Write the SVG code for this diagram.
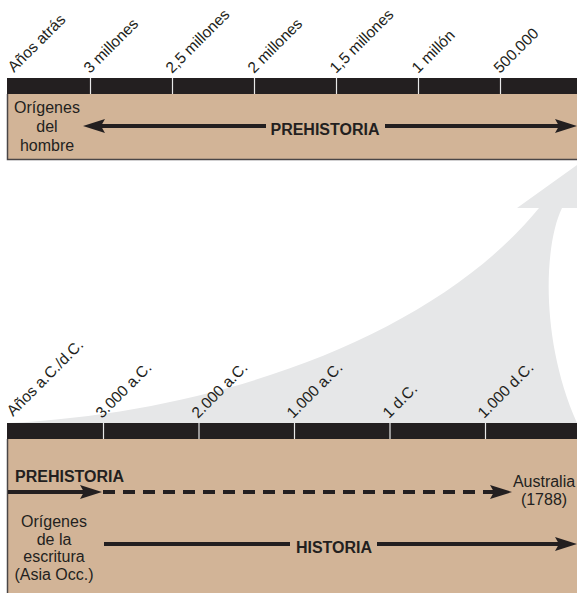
<svg xmlns="http://www.w3.org/2000/svg" width="577" height="593" viewBox="0 0 577 593">
<defs>
<style>
.bar{fill:#231f20}
.tan{fill:#d2b497}
.tick{stroke:#e8e8e8;stroke-width:1.2}
.lbl{font-family:"Liberation Sans",Arial,sans-serif;font-size:15.5px;fill:#231f20}
.txt{font-family:"Liberation Sans",Arial,sans-serif;font-size:16px;fill:#231f20}
.bold{font-family:"Liberation Sans",Arial,sans-serif;font-size:16px;font-weight:bold;fill:#231f20}
.ln{stroke:#231f20;stroke-width:4;fill:none}
.dash{stroke-dasharray:12 8}
</style>
<marker id="ah" markerUnits="userSpaceOnUse" viewBox="0 0 22 14" refX="12" refY="7" markerWidth="22" markerHeight="14" orient="auto">
<path d="M0,0 L22,7 L0,14 L4,7 Z" fill="#231f20"/>
</marker>
</defs>
<rect width="577" height="593" fill="#ffffff"/>

<g id="grey-arrow">
<path d="M8,423 C230,412 440,330 539,208 L517,208 L620,134 L640,208 L562,208 C544,245 540,340 577,423 Z" fill="#e6e7e8"/>
</g>

<g id="timeline-top">
<rect class="tan" x="7" y="94" width="570" height="65"/>
<path d="M7.5,94 V159.5 H577" stroke="#4a4647" stroke-width="1.5" fill="none"/>
<rect class="bar" x="7" y="78" width="570" height="16"/>
<g class="tick">
<line x1="90.5" y1="78" x2="90.5" y2="94"/>
<line x1="172.5" y1="78" x2="172.5" y2="94"/>
<line x1="254.5" y1="78" x2="254.5" y2="94"/>
<line x1="336.5" y1="78" x2="336.5" y2="94"/>
<line x1="418.5" y1="78" x2="418.5" y2="94"/>
<line x1="500.5" y1="78" x2="500.5" y2="94"/>
</g>
<text class="lbl" transform="translate(14,73) rotate(-45)">Años atrás</text>
<text class="lbl" transform="translate(90,74) rotate(-45)">3 millones</text>
<text class="lbl" transform="translate(172,74) rotate(-45)">2,5 millones</text>
<text class="lbl" transform="translate(254,74) rotate(-45)">2 millones</text>
<text class="lbl" transform="translate(336,74) rotate(-45)">1,5 millones</text>
<text class="lbl" transform="translate(418,74) rotate(-45)">1 millón</text>
<text class="lbl" transform="translate(500,74) rotate(-45)">500.000</text>
</g>

<g id="origenes-hombre">
<text class="txt" text-anchor="middle" x="47" y="113">Orígenes</text>
<text class="txt" text-anchor="middle" x="47" y="132">del</text>
<text class="txt" text-anchor="middle" x="47" y="151">hombre</text>
</g>

<g id="prehistoria-top">
<text class="bold" text-anchor="middle" x="325" y="135">PREHISTORIA</text>
</g>

<g id="timeline-bottom">
<rect class="tan" x="7" y="439" width="570" height="154"/>
<line x1="7.5" y1="439" x2="7.5" y2="593" stroke="#4a4647" stroke-width="1.5"/>
<rect class="bar" x="7" y="423" width="570" height="16"/>
<g class="tick">
<line x1="103.5" y1="423" x2="103.5" y2="439"/>
<line x1="199" y1="423" x2="199" y2="439"/>
<line x1="294.5" y1="423" x2="294.5" y2="439"/>
<line x1="390" y1="423" x2="390" y2="439"/>
<line x1="485.5" y1="423" x2="485.5" y2="439"/>
</g>
<text class="lbl" transform="translate(13,417) rotate(-45)">Años a.C./d.C.</text>
<text class="lbl" transform="translate(102,419) rotate(-45)">3.000 a.C.</text>
<text class="lbl" transform="translate(198,419) rotate(-45)">2.000 a.C.</text>
<text class="lbl" transform="translate(293,419) rotate(-45)">1.000 a.C.</text>
<text class="lbl" transform="translate(389,419) rotate(-45)">1 d.C.</text>
<text class="lbl" transform="translate(484,419) rotate(-45)">1.000 d.C.</text>
</g>

<g id="prehistoria-bottom">
<text class="bold" x="15" y="482">PREHISTORIA</text>
</g>

<g id="australia">
<text class="txt" text-anchor="middle" x="544" y="487">Australia</text>
<text class="txt" text-anchor="middle" x="544" y="505">(1788)</text>
</g>

<g id="origenes-escritura">
<text class="txt" text-anchor="middle" x="54" y="527">Orígenes</text>
<text class="txt" text-anchor="middle" x="54" y="545">de la</text>
<text class="txt" text-anchor="middle" x="54" y="562">escritura</text>
<text class="txt" text-anchor="middle" x="54" y="580">(Asia Occ.)</text>
</g>

<g id="historia">
<text class="bold" text-anchor="middle" x="334" y="553">HISTORIA</text>
</g>

<g id="connectors">
<line class="ln" x1="266" y1="126" x2="93" y2="126" marker-end="url(#ah)"/>
<line class="ln" x1="385" y1="126" x2="567" y2="126" marker-end="url(#ah)"/>
<line class="ln" x1="8" y1="492" x2="92" y2="492" marker-end="url(#ah)"/>
<line class="ln dash" x1="103" y1="492" x2="502" y2="492" marker-end="url(#ah)"/>
<line class="ln" x1="104" y1="544" x2="290" y2="544"/>
<line class="ln" x1="377" y1="544" x2="567" y2="544" marker-end="url(#ah)"/>
</g>
</svg>
